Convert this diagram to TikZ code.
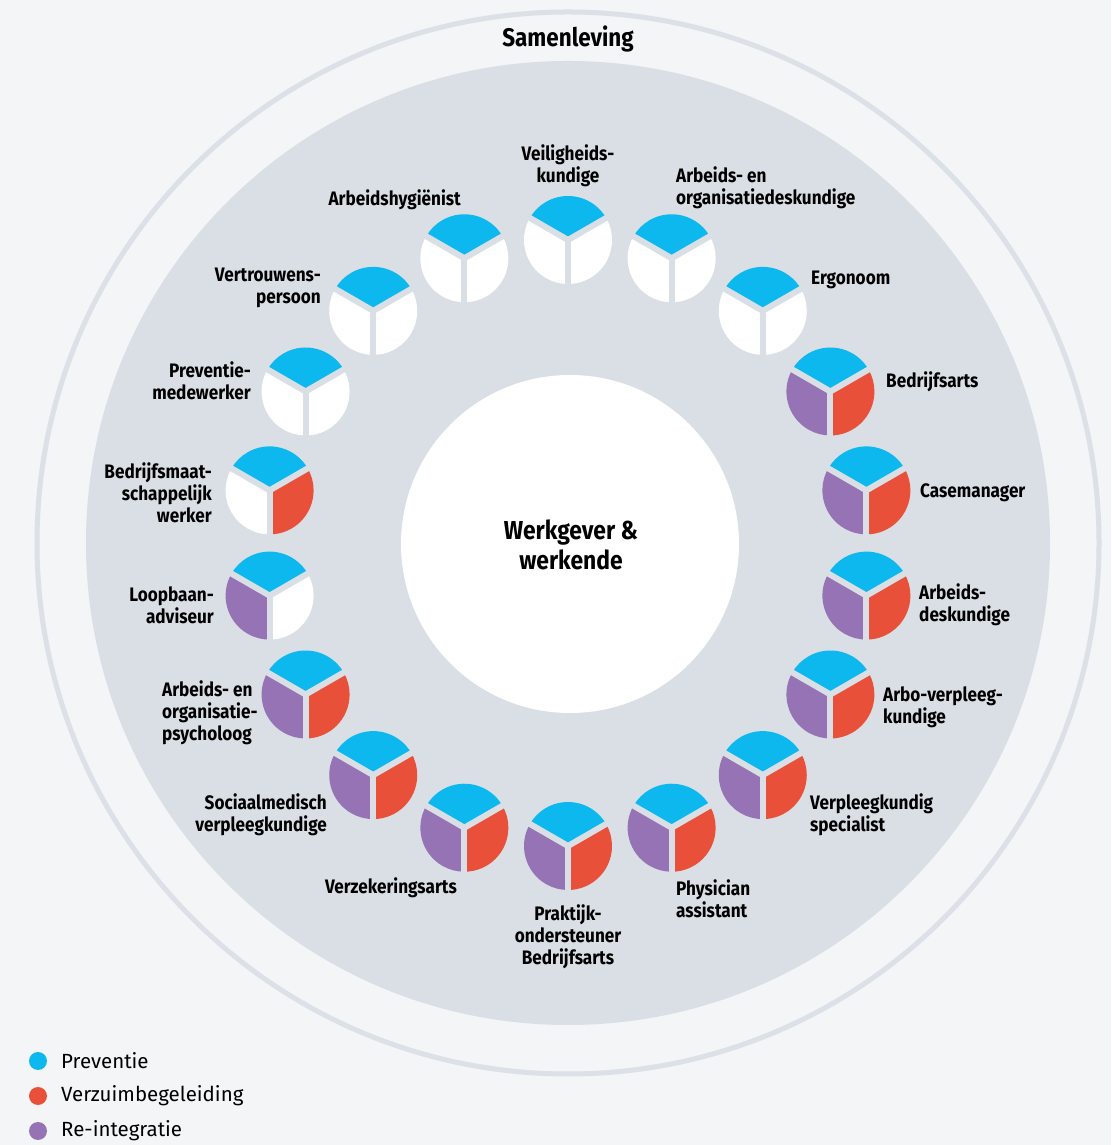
\documentclass[tikz,border=0pt]{standalone}
\usepackage{fontspec}
\setmainfont{Fira Sans}[FakeStretch=0.88]
\newfontfamily\legfont{Fira Sans}
\usetikzlibrary{calc}
\definecolor{bgc}{HTML}{F3F5F7}
\definecolor{ringc}{HTML}{DBE1E6}
\definecolor{diskc}{HTML}{D9DFE5}
\definecolor{pblue}{HTML}{0DB8EE}
\definecolor{pred}{HTML}{E9503A}
\definecolor{ppurple}{HTML}{9573B4}
\tikzset{
  lbl/.style={font=\bfseries\fontsize{19.5}{22}\selectfont, text=black, inner sep=0pt},
  gapline/.style={draw=diskc, line width=6pt, line cap=butt},
  legtext/.style={font=\legfont\fontsize{20.5}{24}\selectfont, text=black, anchor=west, inner sep=0pt}
}
\begin{document}
\begin{tikzpicture}[x=1pt,y=1pt]
\useasboundingbox (0,0) rectangle (1111,1145);
\fill[bgc] (0,0) rectangle (1111,1145);
\coordinate (C) at (568,602);
\draw[ringc, line width=5pt] (C) circle (531);
\fill[diskc] (C) circle (482);
\fill[white] (570,601) circle (169);
\node[font=\bfseries\fontsize{26}{30}\selectfont, align=center, inner sep=0pt] (center) at (571,600) {Werkgever \&\\werkende};
\node[font=\bfseries\fontsize{25.5}{28}\selectfont, inner sep=0pt] (title) at (568,1106) {Samenleving};
% pies
\foreach \k/\rc/\lc in {0/white/white,1/white/white,2/white/white,3/pred/ppurple,4/pred/ppurple,5/pred/ppurple,6/pred/ppurple,7/pred/ppurple,8/pred/ppurple,9/pred/ppurple,10/pred/ppurple,11/pred/ppurple,12/pred/ppurple,13/white/ppurple,14/pred/white,15/white/white,16/white/white,17/white/white}{
  \coordinate (p\k) at ($(C)+({90-20*\k}:303)$);
  \fill[pblue] (p\k) -- ++(30:44) arc (30:150:44) -- cycle;
  \fill[\rc] (p\k) -- ++(-90:44) arc (-90:30:44) -- cycle;
  \fill[\lc] (p\k) -- ++(150:44) arc (150:270:44) -- cycle;
  \draw[gapline] (p\k) -- ++(30:47);
  \draw[gapline] (p\k) -- ++(150:47);
  \draw[gapline] (p\k) -- ++(-90:47);
}
% labels
\node[lbl, align=center] (l0) at (568,979) {Veiligheids-\\kundige};
\node[lbl, align=left, anchor=west] (l1) at (676,957) {Arbeids- en\\organisatiedeskundige};
\node[lbl, anchor=west] (l2) at (811,865) {Ergonoom};
\node[lbl, anchor=west] (l3) at (886,763) {Bedrijfsarts};
\node[lbl, anchor=west] (l4) at (920,652) {Casemanager};
\node[lbl, align=left, anchor=west] (l5) at (919,540) {Arbeids-\\deskundige};
\node[lbl, align=left, anchor=west] (l6) at (883,438) {Arbo-verpleeg-\\kundige};
\node[lbl, align=left, anchor=west] (l7) at (810,330) {Verpleegkundig\\specialist};
\node[lbl, align=left, anchor=west] (l8) at (676,246) {Physician\\assistant};
\node[lbl, align=center] (l9) at (568,208) {Praktijk-\\ondersteuner\\Bedrijfsarts};
\node[lbl, anchor=east] (l10) at (457,257) {Verzekeringsarts};
\node[lbl, align=right, anchor=east] (l11) at (327,330) {Sociaalmedisch\\verpleegkundige};
\node[lbl, align=left, anchor=west] (l12) at (162,432) {Arbeids- en\\organisatie-\\psycholoog};
\node[lbl, align=right, anchor=east] (l13) at (214,540) {Loopbaan-\\adviseur};
\node[lbl, align=right, anchor=east] (l14) at (212,652) {Bedrijfsmaat-\\schappelijk\\werker};
\node[lbl, align=right, anchor=east] (l15) at (251,764) {Preventie-\\medewerker};
\node[lbl, align=right, anchor=east] (l16) at (321,857) {Vertrouwens-\\persoon};
\node[lbl, anchor=east] (l17) at (461,945) {Arbeidshygiënist};
% legend
\fill[pblue] (38,84) circle (9);
\fill[pred] (38,49) circle (9);
\fill[ppurple] (38,14) circle (9);
\node[legtext] (g1) at (61,84) {Preventie};
\node[legtext] (g2) at (61,49) {Verzuimbegeleiding};
\node[legtext] (g3) at (61,14) {Re-integratie};
\end{tikzpicture}
\end{document}
